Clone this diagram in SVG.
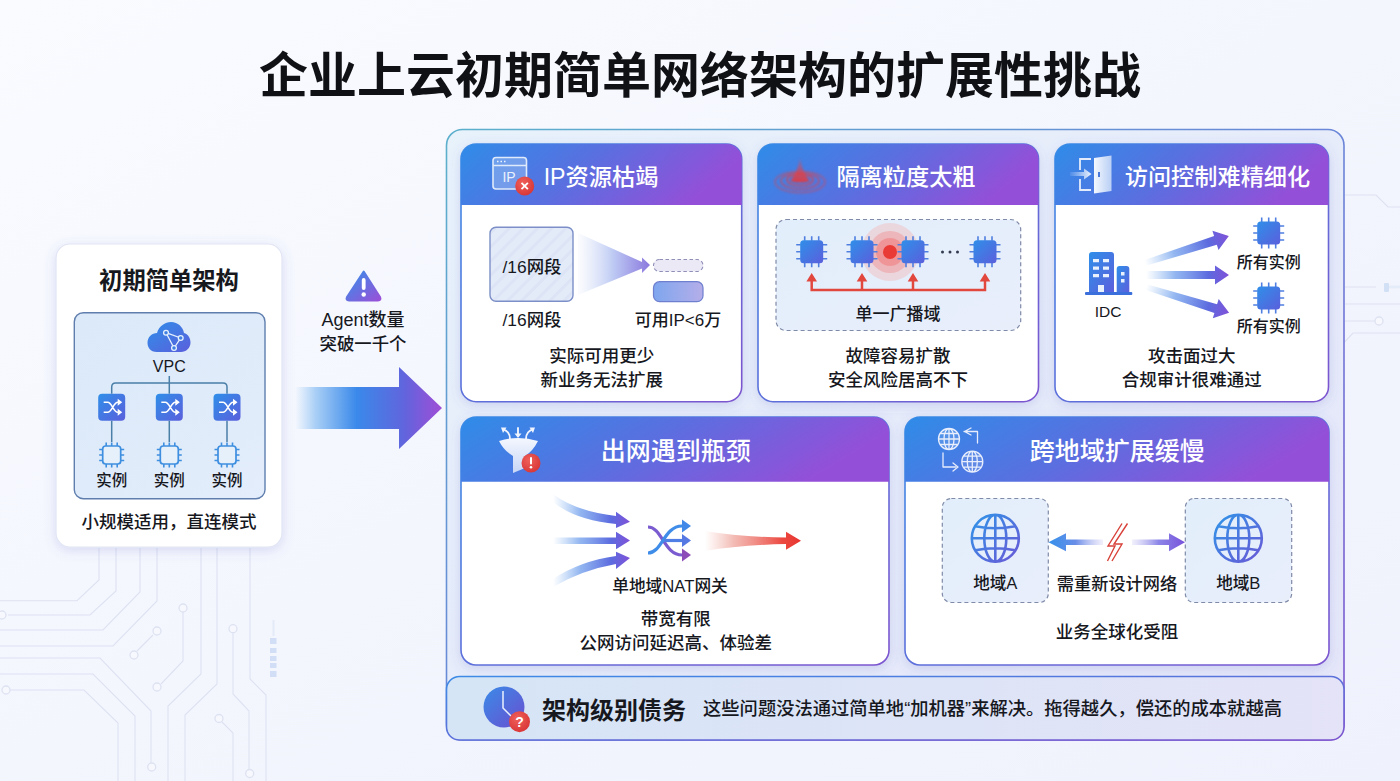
<svg xmlns="http://www.w3.org/2000/svg" xmlns:xlink="http://www.w3.org/1999/xlink" width="1400" height="781" viewBox="0 0 1400 781">
<style>
text{font-family:"Liberation Sans","Noto Sans CJK SC",sans-serif;fill:#16181e;font-weight:500;text-anchor:middle}
.t{font-size:17.5px}
.s{font-size:16px}
.h{font-size:23.2px;fill:#fff}
.h2{font-size:25px;fill:#fff}
.card{fill:#fff;stroke:url(#edge);stroke-width:1.6;filter:url(#sh)}
.trace{fill:none;stroke:#dde2f1;stroke-width:1.1}
.node{fill:#f7f8fe;stroke:#dde2f1;stroke-width:1.3}
.dash{fill:url(#soft);stroke:#7f8ba8;stroke-width:1.2;stroke-dasharray:4 3}
.wl{fill:none;stroke:#e6ecfb;stroke-width:1.6;stroke-linecap:round;stroke-linejoin:round}
</style>
<defs>
<linearGradient id="bg" x1="0" y1="0" x2="1" y2="1"><stop offset="0" stop-color="#f9fbff"/><stop offset=".5" stop-color="#f4f6fe"/><stop offset="1" stop-color="#eff1fc"/></linearGradient>
<linearGradient id="panel" x1="0" y1="0" x2="1" y2="1"><stop offset="0" stop-color="#e8f2fb"/><stop offset="1" stop-color="#e5e6f9"/></linearGradient>
<linearGradient id="edge" x1="0" y1="0" x2="1" y2="1"><stop offset="0" stop-color="#3c8be6"/><stop offset="1" stop-color="#7d55cf"/></linearGradient>
<linearGradient id="pedge" x1="0" y1="0" x2="1" y2="1"><stop offset="0" stop-color="#5cb0cc"/><stop offset=".5" stop-color="#6a86d8"/><stop offset="1" stop-color="#7d55cf"/></linearGradient>
<linearGradient id="head" x1="0" y1="0" x2="1" y2=".25"><stop offset="0" stop-color="#2f8ce8"/><stop offset=".5" stop-color="#5a6fe0"/><stop offset="1" stop-color="#944fd8"/></linearGradient>
<linearGradient id="blue" x1="0" y1="0" x2="1" y2="1"><stop offset="0" stop-color="#2f8fe9"/><stop offset="1" stop-color="#5b5fdc"/></linearGradient>
<linearGradient id="globe" x1="0" y1="0" x2="1" y2="1"><stop offset="0" stop-color="#2f95e8"/><stop offset="1" stop-color="#6a58d6"/></linearGradient>
<linearGradient id="tri" x1="0" y1="0" x2="1" y2="1"><stop offset="0" stop-color="#3390ea"/><stop offset="1" stop-color="#9a50d8"/></linearGradient>
<linearGradient id="soft" x1="0" y1="0" x2="1" y2="1"><stop offset="0" stop-color="#e2eefb"/><stop offset="1" stop-color="#e9eefb"/></linearGradient>
<linearGradient id="vpcb" x1="0" y1="0" x2="1" y2="1"><stop offset="0" stop-color="#dbe9f8"/><stop offset="1" stop-color="#e3edfb"/></linearGradient>
<linearGradient id="big" x1="0" y1="0" x2="1" y2="0"><stop offset="0" stop-color="#aed2f6" stop-opacity="0"/><stop offset=".14" stop-color="#a9cff6"/><stop offset=".42" stop-color="#3a89ea"/><stop offset=".75" stop-color="#6264dd"/><stop offset="1" stop-color="#a04dd6"/></linearGradient>
<linearGradient id="fade" x1="0" y1="0" x2="1" y2="0"><stop offset="0" stop-color="#7fb2f0" stop-opacity="0"/><stop offset=".35" stop-color="#6f9eec" stop-opacity=".75"/><stop offset=".75" stop-color="#5c6bdf"/><stop offset="1" stop-color="#7f52d8"/></linearGradient>
<linearGradient id="cone" x1="0" y1="0" x2="1" y2="0"><stop offset="0" stop-color="#d5e0f7" stop-opacity=".1"/><stop offset=".5" stop-color="#bcc8f3"/><stop offset="1" stop-color="#8a78de"/></linearGradient>
<linearGradient id="redf" x1="0" y1="0" x2="1" y2="0"><stop offset="0" stop-color="#f2b6ae" stop-opacity="0"/><stop offset=".3" stop-color="#f0aaa2" stop-opacity=".8"/><stop offset=".8" stop-color="#ec4a42"/><stop offset="1" stop-color="#e8342f"/></linearGradient>
<linearGradient id="arrL" x1="0" y1="0" x2="1" y2="0"><stop offset="0" stop-color="#3490ea"/><stop offset=".5" stop-color="#6a8ee8"/><stop offset="1" stop-color="#b7b5f0" stop-opacity=".2"/></linearGradient>
<linearGradient id="arrR" x1="0" y1="0" x2="1" y2="0"><stop offset="0" stop-color="#b7b5f0" stop-opacity=".2"/><stop offset=".5" stop-color="#8d86e8"/><stop offset="1" stop-color="#7752da"/></linearGradient>
<linearGradient id="pill" x1="0" y1="0" x2="1" y2="0"><stop offset="0" stop-color="#7ea6ee"/><stop offset="1" stop-color="#b5aee9"/></linearGradient>
<linearGradient id="ban" x1="0" y1="0" x2="1" y2="0"><stop offset="0" stop-color="#d5e5f6"/><stop offset="1" stop-color="#e4e3f7"/></linearGradient>
<linearGradient id="clock" x1="0" y1="0" x2="1" y2="1"><stop offset="0" stop-color="#3a8be8"/><stop offset="1" stop-color="#6a4fd0"/></linearGradient>
<linearGradient id="door" x1="0" y1="0" x2="1" y2="0"><stop offset="0" stop-color="#f4f8fe"/><stop offset="1" stop-color="#b9cff5"/></linearGradient>
<linearGradient id="inarrow" x1="0" y1="0" x2="1" y2="0"><stop offset="0" stop-color="#dfe9fb" stop-opacity=".1"/><stop offset="1" stop-color="#eef4fe"/></linearGradient>
<linearGradient id="fun" x1="0" y1="0" x2="0" y2="1"><stop offset="0" stop-color="#f4f7fe"/><stop offset="1" stop-color="#c8d6f6"/></linearGradient>
<radialGradient id="redb" cx=".4" cy=".35" r=".8"><stop offset="0" stop-color="#f0605a"/><stop offset="1" stop-color="#d42f30"/></radialGradient>
<linearGradient id="sig" x1="0" y1="0" x2="0" y2="1"><stop offset="0" stop-color="#e04a50" stop-opacity=".25"/><stop offset="1" stop-color="#dd3c44"/></linearGradient>
<pattern id="hatch" width="10" height="10" patternUnits="userSpaceOnUse" patternTransform="rotate(45)"><rect width="10" height="10" fill="#e4ebf8"/><rect width="3" height="10" fill="#dce4f5"/></pattern>
<filter id="sh" x="-15%" y="-15%" width="130%" height="135%"><feDropShadow dx="0" dy="3" stdDeviation="6" flood-color="#5a62c8" flood-opacity=".2"/></filter>
<filter id="soft1" x="-20%" y="-20%" width="140%" height="140%"><feGaussianBlur stdDeviation="1.1"/></filter>
<g id="chip">
<path d="M-7 -15.500V-11M0 -15.500V-11M7 -15.500V-11M-7 11V15.500M0 11V15.500M7 11V15.500M-15.500 -7H-11M-15.500 0H-11M-15.500 7H-11M11 -7H15.500M11 0H15.500M11 7H15.500" stroke="#4f7fe0" stroke-width="1.600" fill="none"/>
<rect x="-11.500" y="-11.500" width="23" height="23" rx="3.500" fill="url(#blue)"/>
</g>
<g id="chipo">
<path d="M-5.500 -12.500V-9M0 -12.500V-9M5.500 -12.500V-9M-5.500 9V12.500M0 9V12.500M5.500 9V12.500M-12.500 -5.500H-9M-12.500 0H-9M-12.500 5.500H-9M9 -5.500H12.500M9 0H12.500M9 5.500H12.500" stroke="#3f8fe0" stroke-width="1.600" fill="none"/>
<rect x="-9" y="-9" width="18" height="18" rx="3" fill="#e6f0fb" stroke="#3f8fe0" stroke-width="1.700"/>
</g>
<g id="sw">
<rect x="-13.500" y="-13.500" width="27" height="27" rx="4" fill="url(#blue)"/>
<path d="M-8 -5H-4C0 -5 2 5 6 5H8M-8 5H-4C0 5 2 -5 6 -5H8" fill="none" stroke="#fff" stroke-width="1.600"/>
<path d="M6 -8.500L10.500 -5L6 -1.500ZM6 1.500L10.500 5L6 8.500Z" fill="#fff"/>
</g>
<path id="gl" d="M-23.500 0A23.500 23.500 0 1 0 23.500 0A23.500 23.500 0 1 0 -23.500 0ZM-11 0A11 23.500 0 1 0 11 0A11 23.500 0 1 0 -11 0ZM0 -23.500V23.500M-23.500 0H23.500M-20 -12Q0 -8 20 -12M-20 12Q0 8 20 12" fill="none" stroke="url(#globe)" stroke-width="2.600"/>
<path id="glw" d="M-10.500 0A10.500 10.500 0 1 0 10.500 0A10.500 10.500 0 1 0 -10.500 0ZM-5 0A5 10.500 0 1 0 5 0A5 10.500 0 1 0 -5 0ZM0 -10.500V10.500M-10.500 0H10.500M-9 -5.500H9M-9 5.500H9" fill="#ffffff" fill-opacity=".12" stroke="#e8eefc" stroke-width="1.300"/>
</defs>

<rect width="1400" height="781" fill="url(#bg)"/>

<g id="bg-traces">
<path class="trace" d="M0 600.700H77L99 580V548M8 615H90L116 591V548M0 630H103L140 592V548M0 646H113L157 601V548M0 658H100L151 711V763M0 674H93L135 716V781M10 690H84L118 723V781M183 612V661L161 684M153 635L137 651M201 548V674L168 706V781M217 548V684L185 715V781M233 633V694L249 711V769M250 548V679L266 695V781M222 722L233 733V781"/>
<circle class="node" cx="2" cy="615" r="4"/><circle class="node" cx="6" cy="690" r="4"/><circle class="node" cx="151.700" cy="767" r="4"/><circle class="node" cx="183" cy="608" r="4"/><circle class="node" cx="157" cy="631" r="4"/><circle class="node" cx="134" cy="655" r="4"/><circle class="node" cx="157" cy="687" r="4"/><circle class="node" cx="233" cy="628.700" r="4"/><circle class="node" cx="249.700" cy="773.500" r="4"/><circle class="node" cx="219" cy="718.500" r="4"/>
<path d="M273.500 620V636" stroke="#e3eaf8" stroke-width="2"/>
<path d="M270 638h6.500v6h-6.500zM270 648h6.500v5h-6.500zM270 656h6.500v5h-6.500zM270 663h6.500v5h-6.500zM270 671h6.500v6h-6.500z" fill="#d2def5"/>
<path class="trace" d="M1345 195H1376L1388 207H1400M1345 287H1376M1345 304H1400M1345 321H1375M1337 350L1353 333H1400"/>
<circle class="node" cx="1379" cy="321" r="4"/>
<rect x="1384" y="283" width="5" height="9" rx="1" fill="#d2e0f6"/>
<path d="M1389 287H1400" stroke="#e5ecf9" stroke-width="3"/>
</g>

<text id="title" x="700" y="93" style="font-size:49px;font-weight:700;fill:#101114">企业上云初期简单网络架构的扩展性挑战</text>

<g id="node-initial">
<rect x="56" y="244" width="226" height="303" rx="14" fill="#fff" stroke="#e1e5f4" stroke-width="1.200" filter="url(#sh)"/>
<text x="169" y="289" style="font-size:23.300px;font-weight:700">初期简单架构</text>
<rect x="74.300" y="312.700" width="190.700" height="186" rx="9" fill="url(#vpcb)" stroke="#5f7eae" stroke-width="1.400"/>
<path d="M157 352C150 352 147.500 347 147.500 342.500C147.500 337 152 333 157 333C159 326 165 322 171 322C178 322 183 327 184 333C188 334 190.500 338 190.500 342.500C190.500 348 186 352 181 352Z" fill="url(#blue)"/>
<path d="M166 332.700L180.700 338L174 348Z" fill="none" stroke="#e6f0fc" stroke-width="1.300"/>
<g fill="#3f7fe4" stroke="#e6f0fc" stroke-width="1.300"><circle cx="166" cy="332.700" r="2.400"/><circle cx="180.700" cy="338" r="2.400"/><circle cx="174" cy="348" r="2.400"/></g>
<text x="169.300" y="372" style="font-size:16px">VPC</text>
<use href="#sw" x="111.700" y="407.300"/><use href="#sw" x="169.300" y="407.300"/><use href="#sw" x="227" y="407.300"/>
<use href="#chipo" x="111.700" y="455"/><use href="#chipo" x="169.300" y="455"/><use href="#chipo" x="227" y="455"/>
<text x="111.700" y="486" style="font-size:15.500px">实例</text><text x="169.300" y="486" style="font-size:15.500px">实例</text><text x="227" y="486" style="font-size:15.500px">实例</text>
<text x="169" y="528" style="font-size:17.500px">小规模适用，直连模式</text>
</g>

<g id="node-warning">
<path d="M363.700 271.500L380 297Q381.500 300.500 378 300.500H349Q345.500 300.500 347 297Z" fill="url(#tri)" stroke="url(#tri)" stroke-width="2" stroke-linejoin="round"/>
<rect x="361.800" y="278" width="3.800" height="12" rx="1.900" fill="#fff"/><circle cx="363.700" cy="294.500" r="2.200" fill="#fff"/>
<text x="363" y="326" style="font-size:18px">Agent数量</text>
<text x="363" y="350" style="font-size:17.400px">突破一千个</text>
</g>

<g id="panel-group">
<rect x="446.500" y="129.500" width="897.500" height="610.500" rx="16" fill="url(#panel)" stroke="url(#pedge)" stroke-width="1.600"/>
</g>

<g id="card-ip">
<rect class="card" x="461" y="144" width="280.700" height="257.700" rx="15"/>
<path d="M461 205V159A15 15 0 0 1 476 144H726.700A15 15 0 0 1 741.700 159V205Z" fill="url(#head)"/>
<rect x="493" y="157.500" width="33.500" height="31.500" rx="3" fill="#a9c6f5" fill-opacity=".45" stroke="#dfeafb" stroke-width="1.600"/>
<path d="M493 165.500H526.500" stroke="#dfeafb" stroke-width="1.300"/>
<path d="M497 161.500h1.500M500.500 161.500h1.500M504 161.500h1.500" stroke="#eef4fd" stroke-width="1.500"/>
<text x="509" y="182" style="font-size:14px;fill:#eaf1fc">IP</text>
<circle cx="524.700" cy="186" r="9.500" fill="url(#redb)"/>
<path d="M521.500 182.800L527.900 189.200M527.900 182.800L521.500 189.200" stroke="#fff" stroke-width="1.800"/>
<text class="h" x="601" y="184.500">IP资源枯竭</text>
<rect x="490" y="227.300" width="83" height="74" rx="6" fill="url(#hatch)" stroke="#7c8fc8" stroke-width="1.400"/>
<text x="532" y="272.500" style="font-size:17.400px">/16网段</text>
<path d="M578 233L642 262V257.500L650 265L642 273V268.500L578 295Z" fill="url(#cone)"/>
<rect x="653.500" y="259.500" width="49.500" height="12" rx="6" fill="#ece9f7" stroke="#8f8fb8" stroke-width="1.100" stroke-dasharray="3.500 2.500"/>
<rect x="653.500" y="281.700" width="49.500" height="20" rx="6" fill="url(#pill)" stroke="#6f7fcf" stroke-width="1.200"/>
<text x="532" y="326" style="font-size:17.400px">/16网段</text>
<text x="678" y="326" style="font-size:17px">可用IP&lt;6万</text>
<text class="t" x="601.700" y="361.500">实际可用更少</text>
<text class="t" x="601.700" y="386">新业务无法扩展</text>
</g>

<g id="card-isolation">
<rect class="card" x="758" y="144" width="280.500" height="257.700" rx="15"/>
<path d="M758 205V159A15 15 0 0 1 773 144H1023.500A15 15 0 0 1 1038.500 159V205Z" fill="url(#head)"/>
<g filter="url(#soft1)">
<g fill="none" stroke="#d9444e" stroke-width="1.600"><ellipse cx="800" cy="182" rx="25" ry="10.500" opacity=".55"/><ellipse cx="800" cy="181" rx="19" ry="8" opacity=".7"/><ellipse cx="800" cy="180" rx="13" ry="5.500" opacity=".85"/></g>
<path d="M800 158C802 168 805 176 810 181Q800 184 790 181C795 176 798 168 800 158Z" fill="url(#sig)"/>
</g>
<text class="h" x="906" y="184.500">隔离粒度太粗</text>
<rect class="dash" x="776" y="219.500" width="244.700" height="111" rx="10"/>
<circle cx="890" cy="252" r="29" fill="#f2b9b9" fill-opacity=".45"/><circle cx="890" cy="252" r="21" fill="#ee9c9f" fill-opacity=".55"/><circle cx="890" cy="252" r="14" fill="#ef8486" fill-opacity=".65"/><circle cx="890" cy="252" r="7" fill="#ea3a36"/>
<use href="#chip" x="811.700" y="251.700"/><use href="#chip" x="862" y="251.700"/><use href="#chip" x="913" y="251.700"/><use href="#chip" x="985" y="251.700"/>
<g fill="#333a50"><circle cx="942.500" cy="252" r="1.500"/><circle cx="950" cy="252" r="1.500"/><circle cx="957.500" cy="252" r="1.500"/></g>
<text x="898" y="320" style="font-size:17px">单一广播域</text>
<text class="t" x="898" y="361.500">故障容易扩散</text>
<text class="t" x="898" y="386">安全风险居高不下</text>
</g>

<g id="card-access">
<rect class="card" x="1055" y="144" width="273.500" height="257.700" rx="15"/>
<path d="M1055 205V159A15 15 0 0 1 1070 144H1313.500A15 15 0 0 1 1328.500 159V205Z" fill="url(#head)"/>
<path d="M1091 159H1080V170M1080 179V190H1091" fill="none" stroke="#e4ecfb" stroke-width="1.800"/>
<path d="M1070 172H1084V168.500L1091.500 174L1084 179.500V176H1070Z" fill="url(#inarrow)"/>
<path d="M1094 158L1111.500 155.500V191L1094 193.500Z" fill="url(#door)"/>
<rect x="1098" y="172" width="2" height="5" fill="#4a78d8"/>
<text class="h" x="1217.500" y="184.500">访问控制难精细化</text>
<path d="M1089 255Q1089 252 1092 252H1111Q1114 252 1114 255V292H1089Z" fill="url(#blue)"/>
<path d="M1116.700 269Q1116.700 266 1119.500 266H1126.500Q1129.300 266 1129.300 269V292H1116.700Z" fill="url(#blue)"/>
<rect x="1085" y="292" width="47.300" height="3" rx="1" fill="#3a6fdc"/>
<path d="M1093 259h6v3.300h-6zM1103 259h6v3.300h-6zM1093 266.500h6v3.300h-6zM1103 266.500h6v3.300h-6zM1093 274h6v3.300h-6zM1103 274h6v3.300h-6zM1121 272h3.500v3.500h-3.500zM1121 279h3.500v3.500h-3.500zM1098 285h6v7h-6z" fill="#e9f1fd"/>
<text x="1108" y="317" style="font-size:15.500px">IDC</text>
<use href="#chip" x="1268.700" y="233"/><use href="#chip" x="1268.700" y="298"/>
<text class="s" x="1268.700" y="267.500">所有实例</text>
<text class="s" x="1268.700" y="332">所有实例</text>
<text class="t" x="1191.700" y="361.500">攻击面过大</text>
<text class="t" x="1191.700" y="386">合规审计很难通过</text>
</g>

<g id="card-egress">
<rect class="card" x="461" y="417" width="428" height="248" rx="15"/>
<path d="M461 481.700V432A15 15 0 0 1 476 417H874A15 15 0 0 1 889 432V481.700Z" fill="url(#head)"/>
<path d="M499 441Q518 435 538 441Q533 451 525 456V468L513 473V456Q504 451 499 441Z" fill="url(#fun)"/>
<path d="M518 428V435M510 439C510 433 507 431 503 429M526 439C526 433 529 431 533 429" fill="none" stroke="#f0f4fe" stroke-width="1.900" stroke-linecap="round"/>
<path d="M514.500 433.500L518 438L521.500 433.500ZM501 427.500L506.500 427.500L503 433ZM535 427.500L529.500 427.500L533 433Z" fill="#f0f4fe"/>
<circle cx="531" cy="463" r="9.500" fill="url(#redb)"/>
<rect x="530" y="457" width="2" height="7.500" rx="1" fill="#fff"/><circle cx="531" cy="467.300" r="1.300" fill="#fff"/>
<text class="h2" x="675.700" y="460">出网遇到瓶颈</text>
<text x="670" y="591.500" style="font-size:16.700px">单地域NAT网关</text>
<g fill="none" stroke-width="3.200">
<path d="M648 527C662 527 664 555 682 555" stroke="#7a5bd0"/>
<path d="M648 553C662 553 664 526 682 526" stroke="#3f8de8"/>
<path d="M664 540.500H682" stroke="#4f7fe4"/>
</g>
<path d="M682 519.500L691 526L682 532.500Z" fill="#4089e8"/><path d="M682 534L691 540.500L682 547Z" fill="#5578e2"/><path d="M682 548.500L691 555L682 561.500Z" fill="#8c4db8"/>
<text class="t" x="675.700" y="625">带宽有限</text>
<text class="t" x="675.700" y="649">公网访问延迟高、体验差</text>
</g>

<g id="card-region">
<rect class="card" x="905" y="417" width="424" height="248" rx="15"/>
<path d="M905 481.700V432A15 15 0 0 1 920 417H1314A15 15 0 0 1 1329 432V481.700Z" fill="url(#head)"/>
<use href="#glw" x="949" y="439"/><use href="#glw" x="972.300" y="461.700"/>
<path d="M964 431.500H977.500V443M971 428L964.500 431.500L971 435M943 453V467H956" class="wl" style="stroke-width:1.300"/>
<path d="M953 463L958 467L953 471" class="wl" style="stroke-width:1.300"/>
<text class="h2" x="1117.300" y="460">跨地域扩展缓慢</text>
<rect class="dash" x="942.300" y="498.500" width="106" height="104" rx="9"/>
<rect class="dash" x="1185.300" y="498.500" width="106.400" height="104" rx="9"/>
<use href="#gl" x="995.300" y="538.300"/><use href="#gl" x="1238.300" y="538.300"/>
<text x="995.300" y="589" style="font-size:16.600px">地域A</text>
<text x="1238.300" y="589" style="font-size:16.600px">地域B</text>
<path d="M1122 523.500L1108 546H1115L1107.500 561M1127.500 523.500L1114 544H1122L1112 561" fill="none" stroke="#d8423a" stroke-width="1.400"/>
<text x="1117" y="590" style="font-size:17.200px">需重新设计网络</text>
<text class="t" x="1117" y="638">业务全球化受阻</text>
</g>

<g id="connectors">
<g fill="none" stroke="#4a7fa8" stroke-width="1.500">
<path d="M111.700 393.800V387Q111.700 383 115.700 383H223Q227 383 227 387V393.800M169.300 376V393.800"/>
<path d="M111.700 420.800V442M169.300 420.800V442M227 420.800V442"/>
</g>
<path d="M295 387H399V367L442 408L399 449V429H295Z" fill="url(#big)"/>
<path d="M811.700 281V290H985V281M862 281V290M913 281V290" fill="none" stroke="#e2473e" stroke-width="2.500"/>
<path d="M811.700 273L817 281.500H806.400ZM862 273L867.300 281.500H856.700ZM913 273L918.300 281.500H907.700ZM985 273L990.300 281.500H979.700Z" fill="#e2473e"/>
<g fill="url(#fade)">
<path transform="translate(1145 263) rotate(-17.800)" d="M0 -3L74 -4.500V-10L88 0L74 10V4.500L0 3Z"/>
<path transform="translate(1146 275)" d="M0 -4L69 -4V-9.500L83 0L69 9.500V4L0 4Z"/>
<path transform="translate(1146 287) rotate(17.200)" d="M0 -3L73 -4.500V-10L87 0L73 10V4.500L0 3Z"/>
<path d="M553 494Q575 511 616 516V511.700L630 521.700L616 528V524Q575 520 553 502Z"/>
<path d="M553 537.500H616V531.700L630 540.500L616 549.300V544H553Z"/>
<path d="M553 579Q580 561 616 556V551.700L630 558L616 569V564Q582 570 553 587Z"/>
</g>
<path d="M705 531Q740 537 786 537.500V531.700L801 540.700L786 549.700V544Q740 545 705 551Z" fill="url(#redf)"/>
<path d="M1048.500 542.300L1066 533.300V539.500H1103V545H1066V551.300Z" fill="url(#arrL)"/>
<path d="M1132 539.500H1169V533.300L1185 542.300L1169 551.300V545H1132Z" fill="url(#arrR)"/>
</g>

<g id="banner">
<rect x="446.500" y="676.500" width="897.500" height="63.500" rx="13" fill="url(#ban)" stroke="url(#edge)" stroke-width="1.600"/>
<circle cx="504" cy="707" r="20.500" fill="url(#clock)"/>
<path d="M503 691V708L511 716" fill="none" stroke="#eaf1fd" stroke-width="1.500"/>
<circle cx="519.500" cy="721.700" r="10.500" fill="url(#redb)"/>
<text x="519.500" y="727" style="font-size:14px;fill:#fff;font-weight:700">?</text>
<text x="614" y="719" style="font-size:24px;font-weight:700">架构级别债务</text>
<text x="992.500" y="715" style="font-size:18.300px">这些问题没法通过简单地“加机器”来解决。拖得越久，偿还的成本就越高</text>
</g>
</svg>
